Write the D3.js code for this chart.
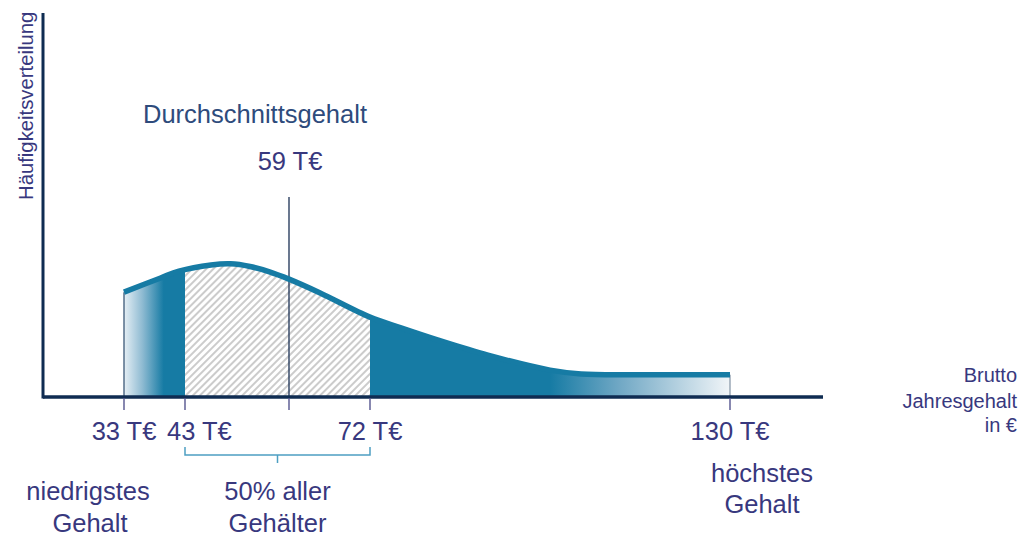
<!DOCTYPE html>
<html><head><meta charset="utf-8">
<script src="https://cdn.jsdelivr.net/npm/d3@7"></script>
<style>
html,body{margin:0;padding:0;background:#fff;}
svg{display:block;}
text{font-family:"Liberation Sans",Arial,sans-serif;}
</style></head>
<body>
<svg id="chart" width="1022" height="540"></svg>
<script>
// salary in T€ and relative frequency (arbitrary units 0..100)
const salary = [33, 39, 42, 47, 50, 53, 56, 59, 64, 72, 77, 83, 91, 101, 106, 115, 130];
const freq   = [27.3, 31.0, 32.8, 34.4, 34.7, 34.0, 32.6, 30.7, 27.1, 20.8, 18.0, 14.8, 10.9, 7.0, 6.0, 5.8, 5.8];
const tickValues = [33, 43, 59, 72, 130];
const tickLabels = ["33 T€", "43 T€", "", "72 T€", "130 T€"];
const meanValue = 59;
const meanLabel = "59 T€";
const meanTitle = "Durchschnittsgehalt";
const quartiles = [43, 72];
const yTitle = "Häufigkeitsverteilung";
const xTitle = ["Brutto", "Jahresgehalt", "in €"];
const minLabel = ["niedrigstes", "Gehalt"];
const maxLabel = ["höchstes", "Gehalt"];
const midLabel = ["50% aller", "Gehälter"];

const svg = d3.select("#chart");
// infographic axis: piecewise-linear positions of the labelled salaries
const x = d3.scaleLinear().domain([20, 33, 43, 59, 72, 130, 145]).range([43, 124, 185, 289, 370, 730, 823]);
const y = d3.scaleLinear().domain([0, 100]).range([397, 13]);
const xAxisExtent = [20, 145];

const teal = "#167ba4";
const navy = "#0f2c52";
const ink = "#38387e";

const defs = svg.append("defs");
const pat = defs.append("pattern").attr("id", "hatch").attr("patternUnits", "userSpaceOnUse")
  .attr("width", 5).attr("height", 5).attr("patternTransform", "rotate(45)");
pat.append("rect").attr("width", 5).attr("height", 5).attr("fill", "#fff");
pat.append("line").attr("x1", 1).attr("y1", 0).attr("x2", 1).attr("y2", 5)
  .attr("stroke", "#c6c6c6").attr("stroke-width", 1.8);

const g1 = defs.append("linearGradient").attr("id", "fillGrad").attr("gradientUnits", "userSpaceOnUse")
  .attr("x1", x(33)).attr("x2", x(130)).attr("y1", 0).attr("y2", 0);
const span = x(130) - x(33);
[[33, "#e6eff5"], [36, "#8fbbd2"], [39.5, teal], [101, teal], [112, "#6fa7c4"], [130, "#f1f5f8"]]
  .forEach(([v, c]) => g1.append("stop").attr("offset", (x(v) - x(33)) / span).attr("stop-color", c));

const shadow = defs.append("filter").attr("id", "shadow").attr("x", "-5%").attr("y", "-200%").attr("width", "110%").attr("height", "500%");
shadow.append("feGaussianBlur").attr("stdDeviation", 3);

const clip = defs.append("clipPath").attr("id", "midClip");
clip.append("rect").attr("x", x(quartiles[0])).attr("y", 0)
  .attr("width", x(quartiles[1]) - x(quartiles[0])).attr("height", 540);

const pts = salary.map((s, i) => [s, freq[i]]);
const curve = d3.curveCatmullRom.alpha(0.5);
const area = d3.area().x(d => x(d[0])).y0(y(0)).y1(d => y(d[1])).curve(curve);
const line = d3.line().x(d => x(d[0])).y(d => y(d[1])).curve(curve);

// soft shadow under x axis
svg.append("line").attr("x1", x(xAxisExtent[0])).attr("x2", x(xAxisExtent[1]))
  .attr("y1", y(0) + 4).attr("y2", y(0) + 4).attr("stroke", "#999").attr("stroke-width", 3)
  .attr("opacity", 0.5).attr("filter", "url(#shadow)");

svg.append("path").datum(pts).attr("d", area).attr("fill", "url(#fillGrad)");
svg.append("path").datum(pts).attr("d", area).attr("fill", "url(#hatch)").attr("clip-path", "url(#midClip)");

// edge lines at min and max
[salary[0], salary[salary.length - 1]].forEach((s, i) => {
  svg.append("line").attr("x1", x(s)).attr("x2", x(s))
    .attr("y1", y(freq[i === 0 ? 0 : freq.length - 1])).attr("y2", y(0))
    .attr("stroke", i === 0 ? "#3b5878" : "#8a9aaa").attr("stroke-width", 1.3);
});

// mean line
svg.append("line").attr("x1", x(meanValue)).attr("x2", x(meanValue))
  .attr("y1", 197).attr("y2", y(0)).attr("stroke", "#2c3f60").attr("stroke-width", 1.4);

svg.append("path").datum(pts).attr("d", line).attr("fill", "none")
  .attr("stroke", teal).attr("stroke-width", 5.5).attr("stroke-linecap", "butt");

// axes
svg.append("line").attr("x1", x(xAxisExtent[0])).attr("x2", x(xAxisExtent[1]))
  .attr("y1", y(0)).attr("y2", y(0)).attr("stroke", navy).attr("stroke-width", 3.5);
svg.append("line").attr("x1", x(xAxisExtent[0])).attr("x2", x(xAxisExtent[0]))
  .attr("y1", y(100)).attr("y2", y(0) + 1.5).attr("stroke", navy).attr("stroke-width", 3);

// ticks
svg.selectAll(".tick").data(tickValues).enter().append("line")
  .attr("x1", d => x(d)).attr("x2", d => x(d)).attr("y1", y(0) + 1).attr("y2", y(0) + 13)
  .attr("stroke", "#55558f").attr("stroke-width", 1.4);

const fs = 25.5;
function txt(t, px, py, anchor, size, color) {
  return svg.append("text").attr("x", px).attr("y", py).attr("text-anchor", anchor || "middle")
    .attr("font-size", size || fs).attr("fill", color || ink).text(t);
}
tickValues.forEach((v, i) => {
  if (!tickLabels[i]) return;
  if (v === quartiles[0]) txt(tickLabels[i], x(v) - 18, 440, "start");
  else txt(tickLabels[i], x(v), 440);
});

txt(meanTitle, x(meanValue) - 34, 123, "middle", fs, "#2e4b7c");
txt(meanLabel, x(meanValue) + 1, 170);

txt(minLabel[0], x(33) - 36, 500); txt(minLabel[1], x(33) - 34, 532);
txt(midLabel[0], (x(quartiles[0]) + x(quartiles[1])) / 2, 500);
txt(midLabel[1], (x(quartiles[0]) + x(quartiles[1])) / 2, 532);
txt(maxLabel[0], x(130) + 32, 482); txt(maxLabel[1], x(130) + 32, 513);

xTitle.forEach((t, i) => txt(t, 1017, [382, 408, 432][i], "end", 20));

svg.append("text").attr("transform", "translate(33,200) rotate(-90)").attr("text-anchor", "start")
  .attr("font-size", 20.3).attr("fill", ink).text(yTitle);

// bracket for middle 50%
const bx0 = x(quartiles[0]), bx1 = x(quartiles[1]), bm = (bx0 + bx1) / 2;
svg.append("path")
  .attr("d", `M${bx0},447 L${bx0},455 L${bx1},455 L${bx1},447 M${bm},455 L${bm},463`)
  .attr("fill", "none").attr("stroke", "#4d9fc2").attr("stroke-width", 1.5);
</script>
</body></html>
